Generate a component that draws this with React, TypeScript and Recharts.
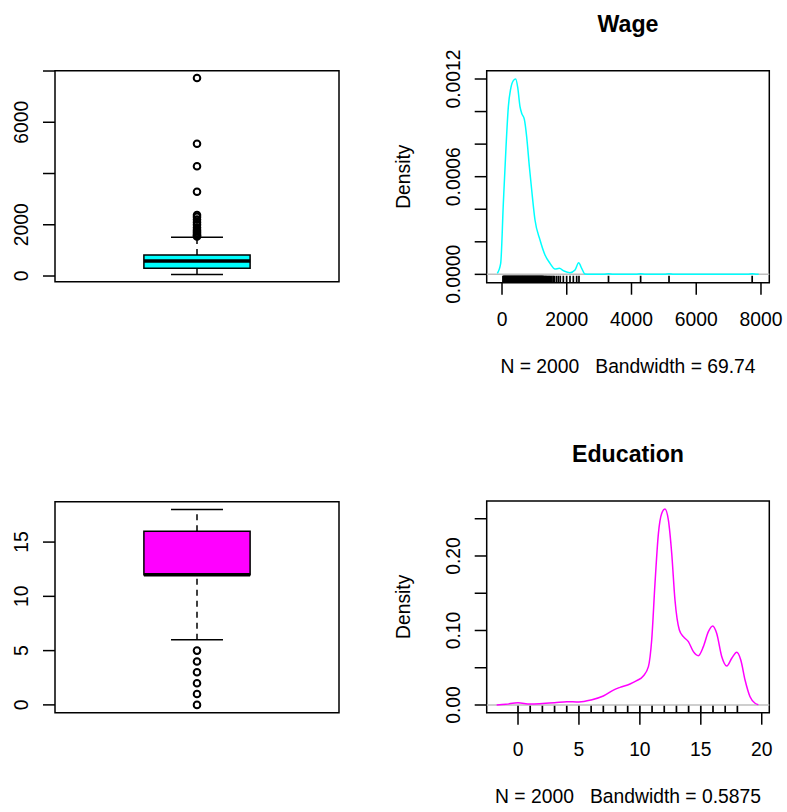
import React from 'react';
import {
  ComposedChart,
  Line,
  Scatter,
  XAxis,
  YAxis,
  ReferenceArea,
  ReferenceLine,
  Label,
} from 'recharts';

const FONT = '"Liberation Sans", Arial, Helvetica, sans-serif';
const FS = 19.3;
const TITLE_FS = 23.2;
const LW = 1.5;

// ---- Wage ----
// low whisker, Q1, median, Q3, high whisker
const wageStats = [60, 300, 585, 820, 1510];
const wageOutliers = [1540, 1580, 1615, 1680, 1740, 1800, 1894, 1997, 2100, 2203, 2306, 2378, 3290, 4282, 5159, 7728];
const wageBoxTicks = [0, 2000, 4000, 6000, 8000];
const wageBoxLabelled = [0, 2000, 6000];

const wageDensX = [
  -145, -41, 41, 124, 196, 268, 350, 422, 484, 556, 607, 690, 762, 845, 917, 1019, 1174, 1328, 1483, 1637,
  1771, 1915, 2100, 2255, 2368, 2461, 2564, 2700, 3150, 3290, 3430, 4140, 4282, 4420, 5020, 5159, 5300,
  7590, 7728, 7870, 7930,
];
const wageDensY = [
  0.0000063, 0.0000677, 0.000436, 0.000784, 0.00103, 0.00114, 0.00119, 0.0012, 0.00115, 0.00103, 0.00099,
  0.000952, 0.000845, 0.000661, 0.000518, 0.000334, 0.000211, 0.000119, 0.0000677, 0.0000327, 0.0000368,
  0.0000205, 0.00001, 0.0000266, 0.0000716, 0.000037, 0.000002, 0, 0, 0.000004, 0, 0, 0.000004, 0, 0,
  0.000004, 0, 0, 0.000004, 0, 0,
];
const wageRug = [
  30, 45, 58, 70, 83, 95, 108, 120, 133, 145, 158, 170, 183, 195, 208, 220, 233, 245, 258, 270, 283, 295, 308,
  320, 333, 345, 358, 370, 383, 395, 408, 420, 433, 445, 458, 470, 483, 495, 508, 520, 533, 545, 558, 570, 583,
  595, 608, 620, 633, 645, 658, 670, 683, 695, 708, 720, 733, 745, 758, 770, 783, 795, 808, 820, 833, 845, 858,
  870, 883, 895, 908, 920, 933, 945, 958, 970, 983, 995, 1008, 1020, 1033, 1045, 1058, 1070, 1083, 1095, 1108,
  1120, 1133, 1145, 1158, 1170, 1183, 1195, 1208, 1220, 1233, 1245, 1258, 1270, 1290, 1310, 1335, 1360, 1380,
  1410, 1440, 1470, 1500, 1540, 1580, 1615, 1680, 1740, 1800, 1894, 1997, 2100, 2203, 2306, 2378, 3290, 4282,
  5159, 7728,
];
const wageDensXTicks = [0, 2000, 4000, 6000, 8000];
const wageDensYTicks = [0, 0.0002, 0.0004, 0.0006, 0.0008, 0.001, 0.0012];
const wageDensYLabelled = [0, 0.0006, 0.0012];

// ---- Education ----
const eduStats = [6, 12, 12, 16, 18];
const eduOutliers = [0, 1, 2, 3, 4, 5];
const eduBoxTicks = [0, 5, 10, 15];

const eduDensX = [
  -1.75, -1, 0, 1, 2, 3, 4, 5, 6, 7, 7.95, 8.37, 9.19, 9.74, 10.28, 10.7, 10.97, 11.24, 11.52, 11.79, 12.06,
  12.34, 12.61, 12.88, 13.24, 13.57, 13.98, 14.39, 14.8, 15.21, 15.62, 15.98, 16.3, 16.72, 17.13, 17.54,
  17.95, 18.28, 18.63, 19.04, 19.45, 19.72,
];
const eduDensY = [
  0, 0.001, 0.003, 0.0013, 0.002, 0.003, 0.0045, 0.004, 0.0067, 0.012, 0.021, 0.0237, 0.0282, 0.0326, 0.0389,
  0.0515, 0.0872, 0.163, 0.23, 0.257, 0.263, 0.248, 0.204, 0.141, 0.1007, 0.0917, 0.085, 0.0716, 0.0662,
  0.0783, 0.0984, 0.106, 0.0962, 0.0648, 0.0523, 0.0627, 0.0707, 0.0604, 0.0336, 0.0111, 0.0023, 0.0004,
];
const eduRug = [0, 1, 2, 3, 4, 5, 6, 7, 8, 9, 10, 11, 12, 13, 14, 15, 16, 17, 18];
const eduDensXTicks = [0, 5, 10, 15, 20];
const eduDensYTicks = [0, 0.05, 0.1, 0.15, 0.2, 0.25];
const eduDensYLabelled = [0, 0.1, 0.2];

// panel geometry (page coords): chart box + plot region
type Geo = { left: number; top: number; width: number; height: number; pl: number; pt: number; pr: number; pb: number };
const TL: Geo = { left: 0, top: 0, width: 393, height: 406, pl: 55, pt: 70.7, pr: 339, pb: 281.7 };
const TR: Geo = { left: 393, top: 0, width: 394, height: 406, pl: 486.7, pt: 70.7, pr: 769.3, pb: 282.7 };
const BL: Geo = { left: 0, top: 406, width: 393, height: 406, pl: 55, pt: 501.7, pr: 339, pb: 712.7 };
const BR: Geo = { left: 393, top: 406, width: 394, height: 406, pl: 486.7, pt: 501, pr: 769.3, pb: 712.7 };

const BOX_HALF = 0.187;
const CAP_HALF = 0.0915;
const X_AXIS_H = 60;
const TICK = 12;
const Y_LABEL_GAP = 15; // tick end -> rotated label baseline

const rotTick = (labelled: number[], fmt: (v: number) => string) => (props: any) => {
  const { x, y, payload } = props;
  if (!labelled.includes(payload.value)) return <g />;
  return (
    <g transform={`translate(${x} ${y}) rotate(-90)`}>
      <text x={0} y={0} textAnchor="middle" fontSize={FS} fontFamily={FONT} fill="#000">
        {fmt(payload.value)}
      </text>
    </g>
  );
};

const flatTick = (props: any) => {
  const { x, y, payload } = props;
  return (
    <text x={x} y={y} textAnchor="middle" fontSize={FS} fontFamily={FONT} fill="#000">
      {payload.value}
    </text>
  );
};

const Circle = (props: any) => (
  <circle cx={props.cx} cy={props.cy} r={3.3} fill="none" stroke="#000" strokeWidth={2} />
);

function BoxPanel({ g, stats, outliers, fill, domain, ticks, labelled }: any) {
  const [lo, q1, med, q3, hi] = stats;
  const yW = g.pl - g.left;
  const margin = { top: g.pt - g.top, right: g.left + g.width - g.pr, bottom: g.top + g.height - g.pb, left: 0 };
  const pts = outliers.map((v: number) => ({ x: 1, y: v }));
  return (
    <div style={{ position: 'absolute', left: g.left, top: g.top }}>
      <ComposedChart width={g.width} height={g.height} margin={margin}>
        <XAxis type="number" dataKey="x" domain={[0.5, 1.5]} hide allowDataOverflow />
        <YAxis
          type="number"
          dataKey="y"
          domain={domain}
          allowDataOverflow
          ticks={ticks}
          interval={0}
          width={yW}
          axisLine={false}
          tickSize={TICK}
          tickMargin={Y_LABEL_GAP}
          tickLine={{ stroke: '#000', strokeWidth: LW }}
          tick={rotTick(labelled, (v) => String(v))}
        />
        <ReferenceLine segment={[{ x: 1, y: q3 }, { x: 1, y: hi }]} stroke="#000" strokeWidth={LW} strokeDasharray="6 5" ifOverflow="visible" />
        <ReferenceLine segment={[{ x: 1, y: lo }, { x: 1, y: q1 }]} stroke="#000" strokeWidth={LW} strokeDasharray="6 5" ifOverflow="visible" />
        <ReferenceLine segment={[{ x: 1 - CAP_HALF, y: hi }, { x: 1 + CAP_HALF, y: hi }]} stroke="#000" strokeWidth={LW} ifOverflow="visible" />
        <ReferenceLine segment={[{ x: 1 - CAP_HALF, y: lo }, { x: 1 + CAP_HALF, y: lo }]} stroke="#000" strokeWidth={LW} ifOverflow="visible" />
        <ReferenceArea x1={1 - BOX_HALF} x2={1 + BOX_HALF} y1={q1} y2={q3} fill={fill} fillOpacity={1} stroke="#000" strokeWidth={LW} ifOverflow="visible" />
        <ReferenceLine segment={[{ x: 1 - BOX_HALF, y: med }, { x: 1 + BOX_HALF, y: med }]} stroke="#000" strokeWidth={3.5} ifOverflow="visible" />
        <Scatter data={pts} shape={Circle} isAnimationActive={false} />
        <ReferenceArea x1={0.5} x2={1.5} y1={domain[0]} y2={domain[1]} fill="none" stroke="#000" strokeWidth={LW} ifOverflow="visible" />
      </ComposedChart>
    </div>
  );
}

function DensityPanel({ g, xs, ys, rug, color, xDomain, yDomain, xTicks, yTicks, yLabelled, yFmt, title, sub }: any) {
  const yW = g.pl - g.left;
  const margin = { top: g.pt - g.top, right: g.left + g.width - g.pr, bottom: g.top + g.height - g.pb - X_AXIS_H, left: 0 };
  const data = xs.map((x: number, i: number) => ({ x, y: ys[i] }));
  const rugPts = rug.map((v: number) => ({ x: v, y: yDomain[0] }));
  const cx = (g.pl + g.pr) / 2 - g.left;
  const cy = (g.pt + g.pb) / 2 - g.top;
  const RugTick = (p: any) => <line x1={p.cx} x2={p.cx} y1={p.cy} y2={p.cy - 7} stroke="#000" strokeWidth={1.7} />;
  // title, axis title and sub label, drawn at fixed spots round the plot frame
  const frameText = () => (
    <g>
      <text x={cx} y={g.pt - g.top - 39} textAnchor="middle" fontSize={TITLE_FS} fontWeight="bold" fontFamily={FONT} fill="#000">
        {title}
      </text>
      <g transform={`translate(16.5, ${cy}) rotate(-90)`}>
        <text x={0} y={0} textAnchor="middle" fontSize={FS} fontFamily={FONT} fill="#000">
          Density
        </text>
      </g>
      <text x={cx} y={g.pb - g.top + 90.5} textAnchor="middle" fontSize={FS} fontFamily={FONT} fill="#000" style={{ whiteSpace: 'pre' }}>
        {sub}
      </text>
    </g>
  );
  return (
    <div style={{ position: 'absolute', left: g.left, top: g.top }}>
      <ComposedChart width={g.width} height={g.height} margin={margin} data={data}>
        <XAxis
          type="number"
          dataKey="x"
          domain={xDomain}
          allowDataOverflow
          ticks={xTicks}
          interval={0}
          height={X_AXIS_H}
          axisLine={false}
          tickSize={TICK}
          tickMargin={31.5}
          tickLine={{ stroke: '#000', strokeWidth: LW }}
          tick={flatTick}
        />
        <YAxis
          type="number"
          dataKey="y"
          domain={yDomain}
          allowDataOverflow
          ticks={yTicks}
          interval={0}
          width={yW}
          axisLine={false}
          tickSize={TICK}
          tickMargin={14.7}
          tickLine={{ stroke: '#000', strokeWidth: LW }}
          tick={rotTick(yLabelled, yFmt)}
        />
        <ReferenceLine y={0} stroke="#BEBEBE" strokeWidth={LW} />
        <Line type="monotone" dataKey="y" stroke={color} strokeWidth={1.5} dot={false} activeDot={false} isAnimationActive={false} />
        <Scatter data={rugPts} shape={RugTick} isAnimationActive={false} />
        <ReferenceArea
          x1={xDomain[0]}
          x2={xDomain[1]}
          y1={yDomain[0]}
          y2={yDomain[1]}
          fill="none"
          stroke="#000"
          strokeWidth={LW}
          ifOverflow="visible"
          label={<Label content={frameText} />}
        />
      </ComposedChart>
    </div>
  );
}

export default function App() {
  return (
    <div style={{ position: 'absolute', left: 0, top: 0, width: 787, height: 812, background: '#fff' }}>
      <BoxPanel g={TL} stats={wageStats} outliers={wageOutliers} fill="#00FFFF" domain={[-222, 8012]} ticks={wageBoxTicks} labelled={wageBoxLabelled} />
      <DensityPanel
        g={TR}
        xs={wageDensX}
        ys={wageDensY}
        rug={wageRug}
        color="#00FFFF"
        xDomain={[-473, 8257]}
        yDomain={[-0.0000512, 0.001251]}
        xTicks={wageDensXTicks}
        yTicks={wageDensYTicks}
        yLabelled={wageDensYLabelled}
        yFmt={(v: number) => v.toFixed(4)}
        title="Wage"
        sub="N = 2000   Bandwidth = 69.74"
      />
      <BoxPanel g={BL} stats={eduStats} outliers={eduOutliers} fill="#FF00FF" domain={[-0.72, 18.72]} ticks={eduBoxTicks} labelled={eduBoxTicks} />
      <DensityPanel
        g={BR}
        xs={eduDensX}
        ys={eduDensY}
        rug={eduRug}
        color="#FF00FF"
        xDomain={[-2.569, 20.62]}
        yDomain={[-0.01034, 0.2738]}
        xTicks={eduDensXTicks}
        yTicks={eduDensYTicks}
        yLabelled={eduDensYLabelled}
        yFmt={(v: number) => v.toFixed(2)}
        title="Education"
        sub="N = 2000   Bandwidth = 0.5875"
      />
    </div>
  );
}
